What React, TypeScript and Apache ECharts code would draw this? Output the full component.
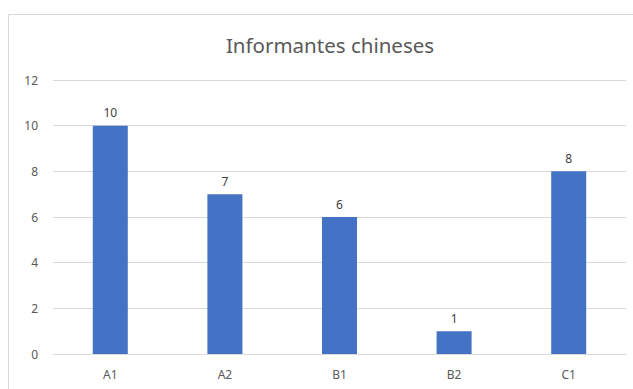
import React, { useEffect, useRef } from "react";
import * as echarts from "echarts";

const categories = ["A1", "A2", "B1", "B2", "C1"];
const values = [10, 7, 6, 1, 8];
const titleText = "Informantes chineses";

export default function App() {
  const ref = useRef<HTMLDivElement>(null);
  useEffect(() => {
    if (!ref.current) return;
    const chart = echarts.init(ref.current, null, { renderer: "svg" });
    chart.setOption({
      animation: false,
      backgroundColor: "#ffffff",
      textStyle: { fontFamily: "Noto Sans" },
      graphic: [
        {
          type: "rect",
          shape: { x: 8.5, y: 14.5, width: 700, height: 400 },
          style: { fill: "none", stroke: "#d9d9d9", lineWidth: 1 },
          silent: true,
        },
        {
          type: "text",
          x: 330,
          y: 45,
          style: {
            text: titleText,
            fill: "#595959",
            font: "20.5px 'Noto Sans'",
            textAlign: "center",
            textVerticalAlign: "middle",
          },
        },
      ],
      grid: { left: 53, right: 7, top: 80, bottom: 35 },
      xAxis: {
        type: "category",
        data: categories,
        axisLine: { lineStyle: { color: "#d9d9d9" } },
        axisTick: { show: false },
        axisLabel: { color: "#595959", fontSize: 12, margin: 14 },
      },
      yAxis: {
        type: "value",
        min: 0,
        max: 12,
        interval: 2,
        axisLine: { show: false },
        axisTick: { show: false },
        axisLabel: { color: "#595959", fontSize: 12, margin: 15 },
        splitLine: { lineStyle: { color: "#d9d9d9" } },
      },
      series: [
        {
          type: "bar",
          data: values,
          barWidth: 35,
          itemStyle: { color: "#4472c4" },
          label: {
            show: true,
            position: "top",
            distance: 7,
            color: "#404040",
            fontSize: 12,
          },
        },
      ],
    });
    return () => chart.dispose();
  }, []);
  return (
    <div style={{ position: "absolute", left: 0, top: 0, width: 633, height: 389, overflow: "hidden" }}>
      <div ref={ref} style={{ width: 633, height: 389 }} />
    </div>
  );
}
